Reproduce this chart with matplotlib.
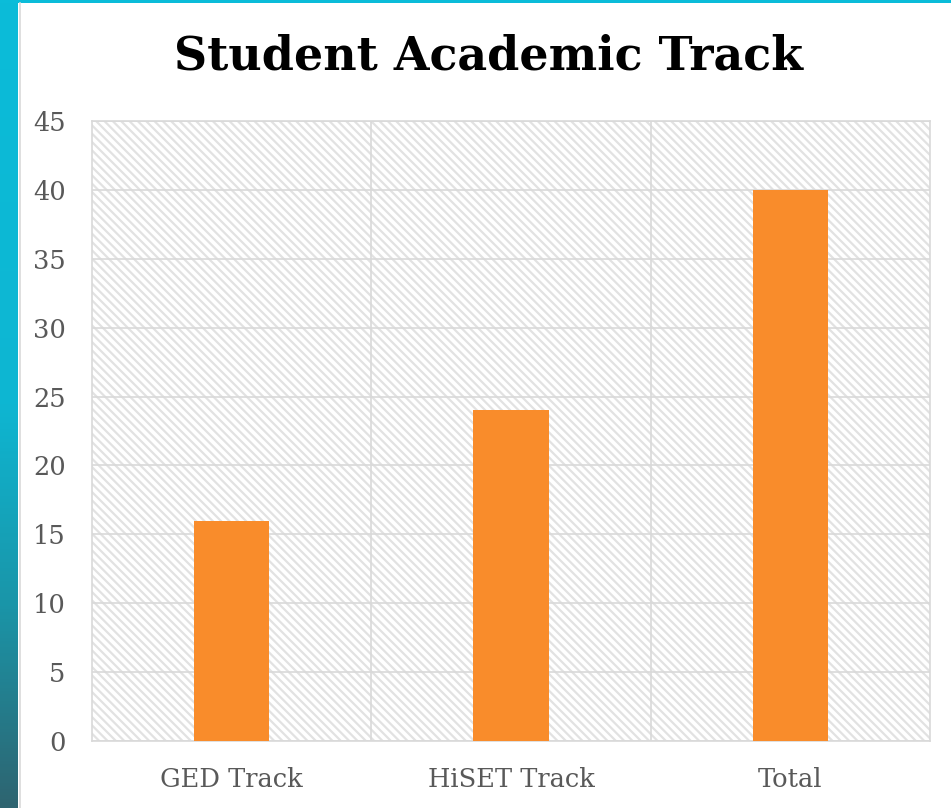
import numpy as np
import matplotlib
matplotlib.use("Agg")
import matplotlib.pyplot as plt
from matplotlib.patches import Rectangle
from matplotlib.colors import LinearSegmentedColormap

categories = ["GED Track", "HiSET Track", "Total"]
values = [16, 24, 40]
yticks = [0, 5, 10, 15, 20, 25, 30, 35, 40, 45]
title = "Student Academic Track"

W, H = 951, 808
fig = plt.figure(figsize=(W / 100, H / 100), dpi=100)
fig.patch.set_facecolor("white")

# left gradient band
band = fig.add_axes([0, 0, 18 / W, 1])
cmap = LinearSegmentedColormap.from_list(
    "band", [(0, "#0BBCD9"), (0.5, "#0EB6D2"), (0.75, "#1A95A8"), (1, "#2E6470")])
grad = np.linspace(0, 1, 256).reshape(-1, 1)
band.imshow(grad, aspect="auto", cmap=cmap, extent=[0, 1, 1, 0])
band.set_axis_off()
# top band
top = fig.add_axes([0, 1 - 3 / H, 1, 3 / H])
top.set_facecolor("#0BBCD9")
top.set_xticks([]); top.set_yticks([])
for s in top.spines.values():
    s.set_visible(False)
# thin border line
fig.add_artist(plt.Line2D([19.5 / W, 19.5 / W], [0, 1 - 3 / H], color="#D9D9D9", lw=1.2))

grid_c = "#D9D9D9"
hatch_c = "#E2E2E2"
text_c = "#595959"
plt.rcParams["hatch.color"] = hatch_c
plt.rcParams["hatch.linewidth"] = 1.6

ax = fig.add_axes([92 / W, 1 - 741 / H, (930 - 92) / W, (741 - 121) / H])
ax.set_facecolor("white")
ax.add_patch(Rectangle((0, 0), 1, 1, transform=ax.transAxes, facecolor="white",
                       edgecolor=hatch_c, hatch="\\\\\\\\", lw=0, zorder=0))

x = np.arange(len(categories))
ax.bar(x, values, width=0.27, color="#F98C2B", zorder=3)

ax.set_xlim(-0.5, len(categories) - 0.5)
ax.set_ylim(0, 45)
ax.set_yticks(yticks)
ax.set_xticks(x)
ax.set_xticklabels(categories)
ax.set_xticks(x[:-1] + 0.5, minor=True)
ax.grid(axis="y", which="major", color=grid_c, lw=1.2, zorder=1)
ax.grid(axis="x", which="minor", color=grid_c, lw=1.2, zorder=1)
ax.grid(axis="x", which="major", visible=False)
ax.tick_params(axis="both", which="both", length=0, colors=text_c, labelsize=18.5)
ax.tick_params(axis="y", pad=19)
ax.tick_params(axis="x", pad=18.5)
for lab in ax.get_xticklabels() + ax.get_yticklabels():
    lab.set_family("DejaVu Serif")
for s in ax.spines.values():
    s.set_color(grid_c)
    s.set_linewidth(1.2)

fig.text(489 / W, 1 - 57 / H, title, ha="center", va="center", fontsize=33,
         fontweight="bold", family="DejaVu Serif", color="black")

fig.savefig("out.png", dpi=100)
